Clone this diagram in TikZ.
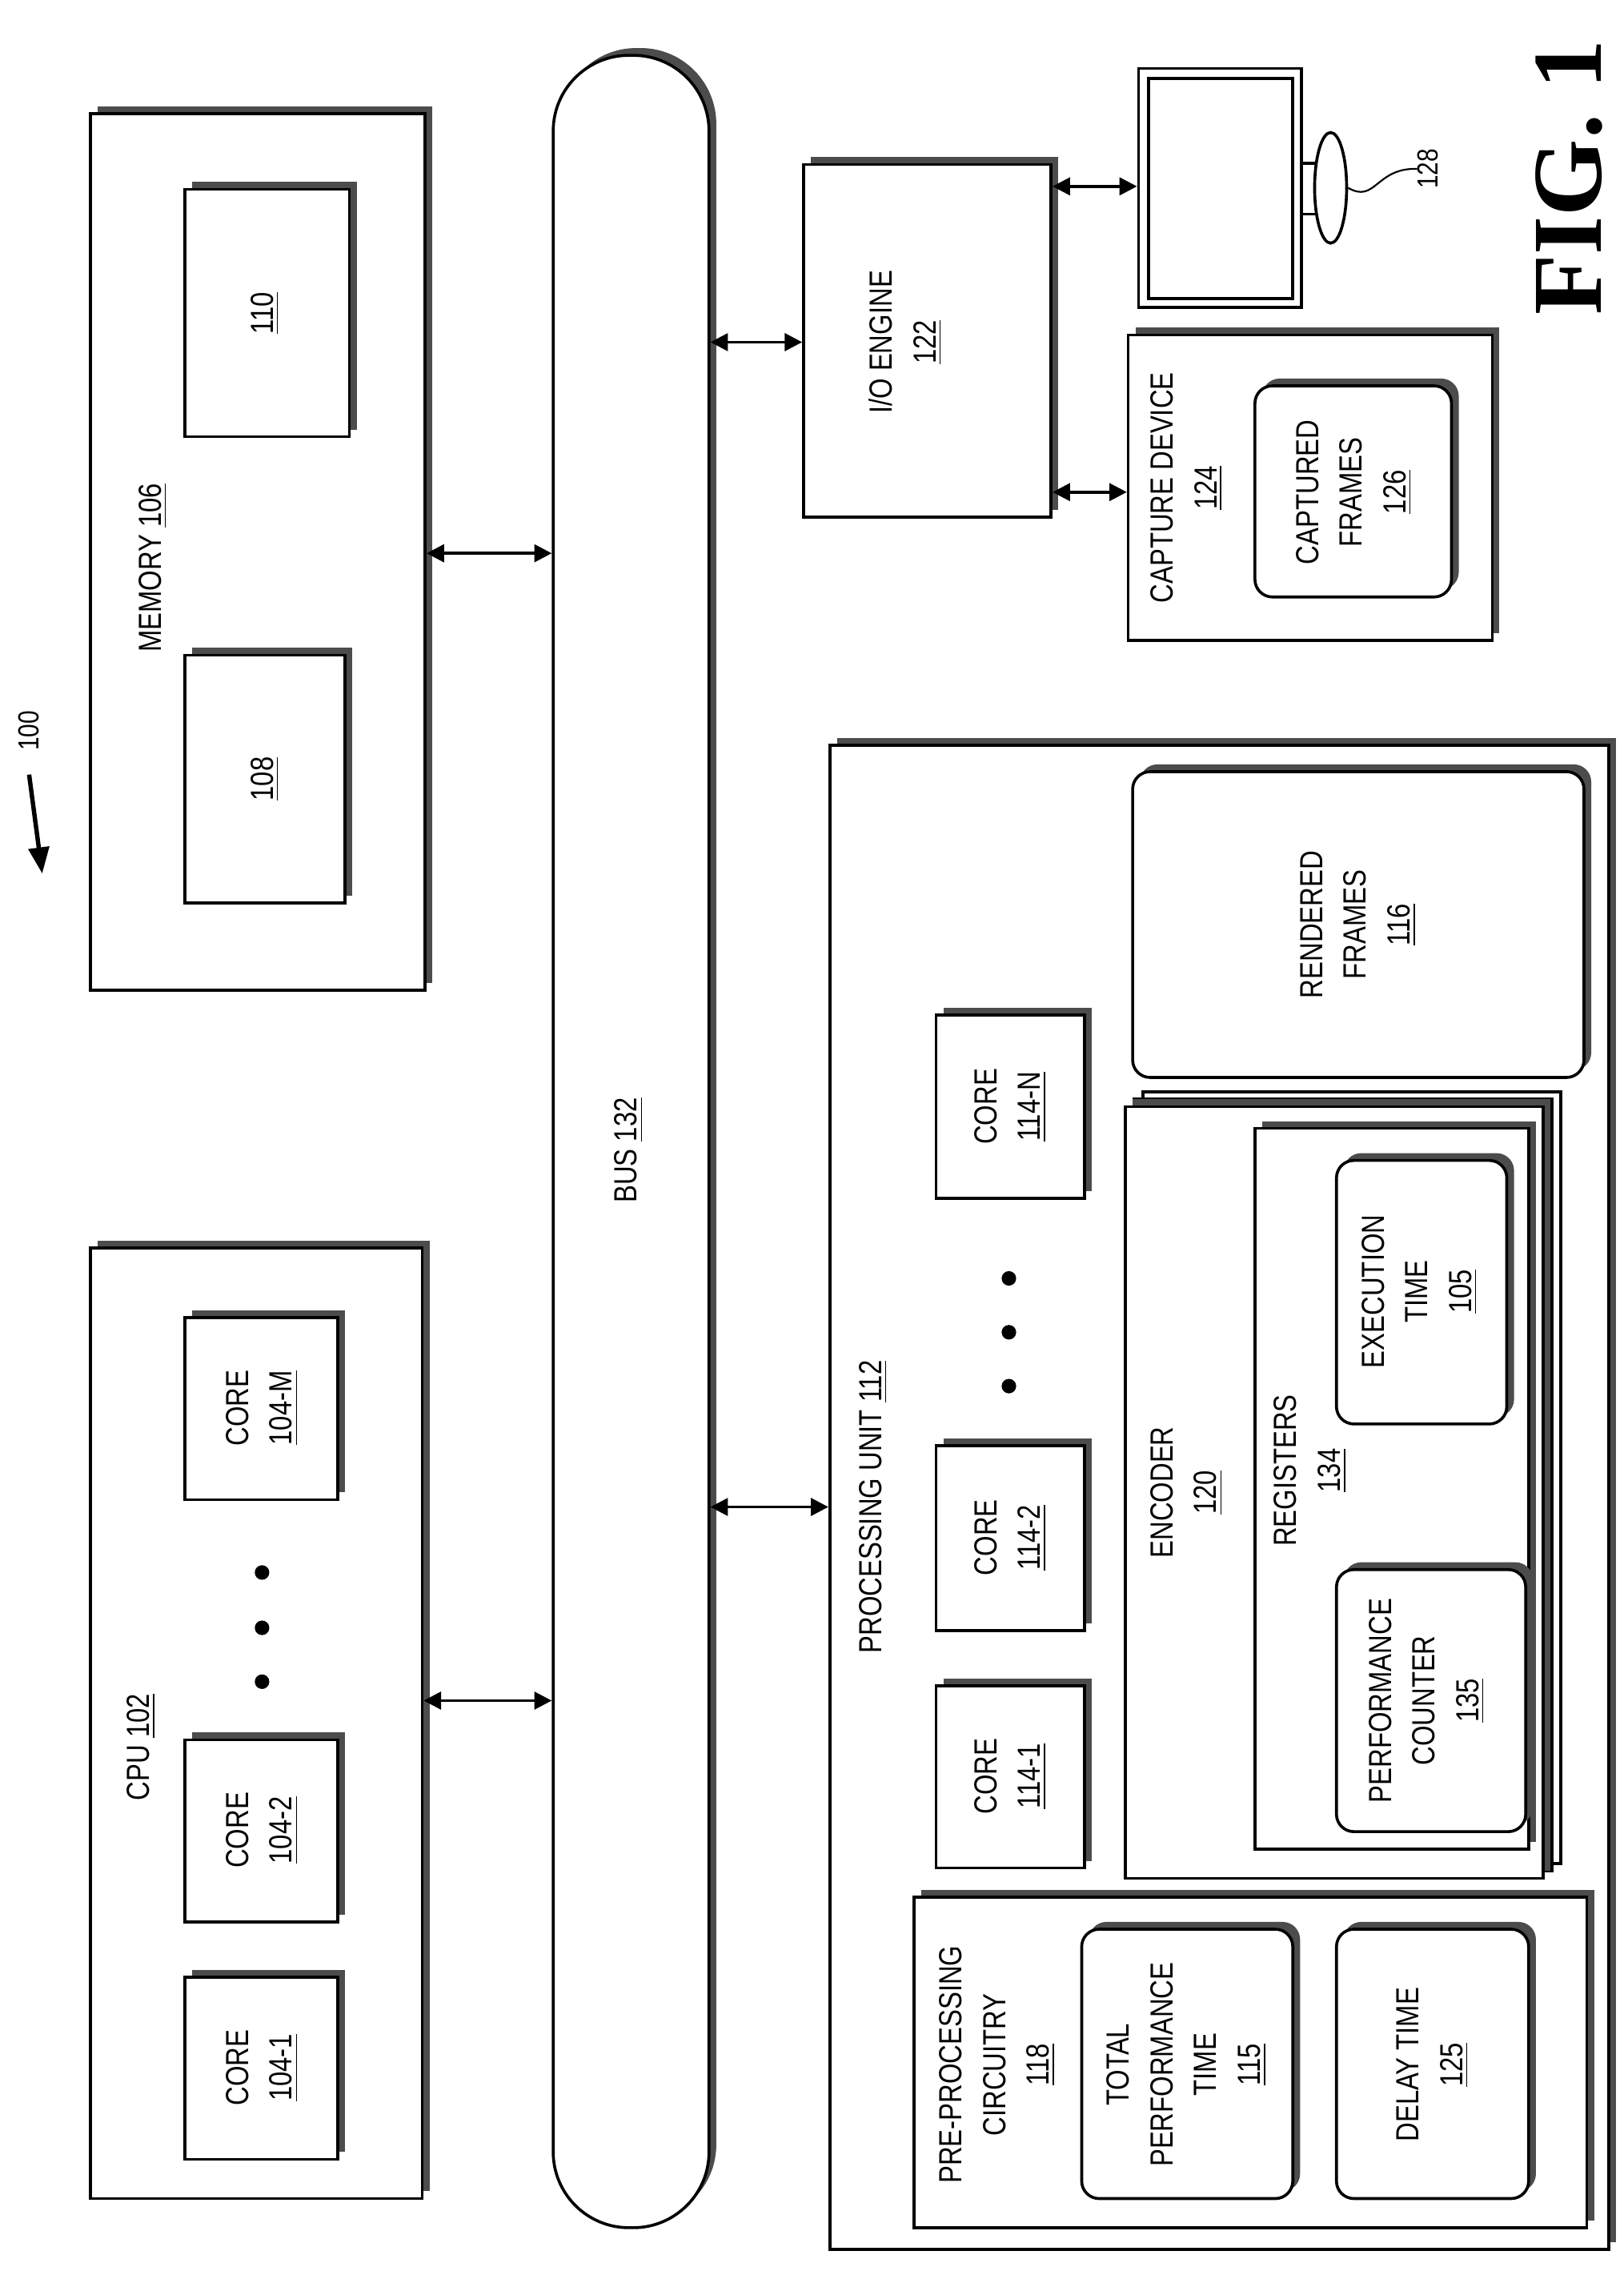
\documentclass[tikz,border=0pt]{standalone}
\usepackage{fontspec}
\setmainfont{Liberation Sans}[FakeStretch=0.82]
\newfontfamily\figfont{Liberation Serif}
\usetikzlibrary{fit,shadows,shapes.geometric,arrows.meta}

\tikzset{
  box/.style={draw=black, line width=1pt, fill=white, inner sep=0pt,
    drop shadow={opacity=1, fill=black!70, shadow xshift=2.5pt, shadow yshift=2.5pt}},
  rbox/.style={box, rounded corners=6pt},
  txt/.style={rotate=90, align=center, font=\fontsize{11}{15}\selectfont, inner sep=0pt},
  dbl/.style={{Triangle[length=6pt,width=6pt]}-{Triangle[length=6pt,width=6pt]}, line width=1pt},
  dot/.style={circle, fill=black, inner sep=0pt, minimum size=5pt}
}
\newcommand{\ul}[1]{\underline{#1}}

\begin{document}
\begin{tikzpicture}[x=0.5pt, y=-0.5pt]
        \useasboundingbox (0,0) rectangle (1115,1568);
        % bus
        \node[box, rounded corners=26pt, fit={(380,38)(487,1530)}] (bus) {};
        \node[txt] at (432,790) {BUS \ul{132}};
        % memory
        \node[box, fit={(62,78)(292,680)}] (mem) {};
        \node[txt] at (105,390) {MEMORY \ul{106}};
        \node[box, fit={(127,450)(237,620)}] (m108) {};
        \node[txt] at (182,535) {\ul{108}};
        \node[box, fit={(127,130)(240,300)}] (m110) {};
        \node[txt] at (182,215) {\ul{110}};
        % cpu
        \node[box, fit={(62,857)(290,1510)}] (cpu) {};
        \node[txt] at (97,1200) {CPU \ul{102}};
        \node[box, fit={(127,1358)(232,1483)}] (c1041) {};
        \node[txt] at (180,1420) {CORE\\\ul{104-1}};
        \node[box, fit={(127,1195)(232,1320)}] (c1042) {};
        \node[txt] at (180,1257) {CORE\\\ul{104-2}};
        \node[box, fit={(127,905)(232,1030)}] (c104m) {};
        \node[txt] at (180,967) {CORE\\\ul{104-M}};
        \foreach \y in {1080,1118,1155} \node[dot] at (180,\y) {};
        % i/o engine and devices
        \node[box, fit={(552,113)(722,355)}] (io) {};
        \node[txt] at (622,235) {I/O ENGINE\\\ul{122}};
        \node[draw, line width=1pt, fill=white, inner sep=0pt, fit={(782,47)(894,211)}] (mon) {};
        \draw[line width=1pt] (789,54) rectangle (888,205);
        \draw[line width=1pt] (894,112) -- (906,112) (894,147) -- (906,147);
        \node[draw, line width=1pt, fill=white, ellipse, minimum width=38pt, minimum height=11pt, inner sep=0pt, rotate=90] (base) at (914,129) {};
        \node[rotate=90, font=\fontsize{10}{12}\selectfont, inner sep=0pt] (l128) at (981,116) {128};
        \draw[line width=0.6pt] (base.south) .. controls (945,140) and (945,115) .. (l128.north);
        \node[box, fit={(775,230)(1025,440)}] (cap) {};
        \node[txt] at (815,335) {CAPTURE DEVICE\\\ul{124}};
        \node[rbox, fit={(862,265)(997,410)}] (frm) {};
        \node[txt] at (930,338) {CAPTURED\\FRAMES\\\ul{126}};
        \node[rotate=90, font=\figfont\bfseries\fontsize{34}{40}\selectfont, inner sep=0pt] (fig) at (1078,122) {FIG. 1};
        % system label
        \node[rotate=90, font=\fontsize{10}{12}\selectfont, inner sep=0pt] (l100) at (20,502) {100};
        \coordinate (a100) at (29,600);
        \draw[-{Triangle[length=9pt,width=7pt]}, line width=1.5pt] (20,532) -- (a100);
        % processing unit
        \node[box, fit={(570,512)(1105,1545)}] (pu) {};
        \node[txt] at (600,1035) {PROCESSING UNIT \ul{112}};
        \node[rbox, fit={(778,530)(1088,740)}] (rend) {};
        \node[txt] at (933,635) {RENDERED\\FRAMES\\\ul{116}};
        \node[box, fit={(643,697)(745,823)}] (c114n) {};
        \node[txt] at (694,760) {CORE\\\ul{114-N}};
        \node[box, fit={(643,993)(745,1120)}] (c1142) {};
        \node[txt] at (694,1056) {CORE\\\ul{114-2}};
        \node[box, fit={(643,1158)(745,1283)}] (c1141) {};
        \node[txt] at (694,1220) {CORE\\\ul{114-1}};
        \foreach \y in {878,915,952} \node[dot] at (693,\y) {};
        % encoder stack
        \draw[line width=1pt, fill=white] (785,750) rectangle (1072,1280);
        \draw[line width=1pt, fill=white] (779,755) rectangle (1066,1285);
        \node[box, fit={(773,760)(1060,1290)}] (enc) {};
        \node[txt] at (815,1025) {ENCODER\\\ul{120}};
        \node[box, fit={(862,775)(1050,1270)}] (reg) {};
        \node[txt] at (900,1010) {REGISTERS\\\ul{134}};
        \node[rbox, fit={(918,797)(1035,978)}] (exe) {};
        \node[txt] at (975,887) {EXECUTION\\TIME\\\ul{105}};
        \node[rbox, fit={(918,1078)(1048,1258)}] (perf) {};
        \node[txt] at (980,1168) {PERFORMANCE\\COUNTER\\\ul{135}};
        % pre-processing
        \node[box, fit={(628,1303)(1090,1530)}] (pre) {};
        \node[txt] at (685,1418) {PRE-PROCESSING\\CIRCUITRY\\\ul{118}};
        \node[rbox, fit={(743,1325)(888,1510)}] (tot) {};
        \node[txt] at (815,1418) {TOTAL\\PERFORMANCE\\TIME\\\ul{115}};
        \node[rbox, fit={(918,1325)(1050,1510)}] (dly) {};
        \node[txt] at (984,1418) {DELAY TIME\\\ul{125}};
        % connectors
        \coordinate (r128) at (0,128);
        \coordinate (r235) at (0,235);
        \coordinate (r338) at (0,338);
        \coordinate (r380) at (0,380);
        \coordinate (r1035) at (0,1035);
        \coordinate (r1168) at (0,1168);
        \draw[dbl] (mem.east |- r380) -- (bus.west |- r380);
        \draw[dbl] (cpu.east |- r1168) -- (bus.west |- r1168);
        \draw[dbl] (bus.east |- r235) -- (io.west |- r235);
        \draw[dbl] (bus.east |- r1035) -- (pu.west |- r1035);
        \draw[dbl] (io.east |- r128) -- (mon.west |- r128);
        \draw[dbl] (io.east |- r338) -- (cap.west |- r338);
\end{tikzpicture}
\end{document}
